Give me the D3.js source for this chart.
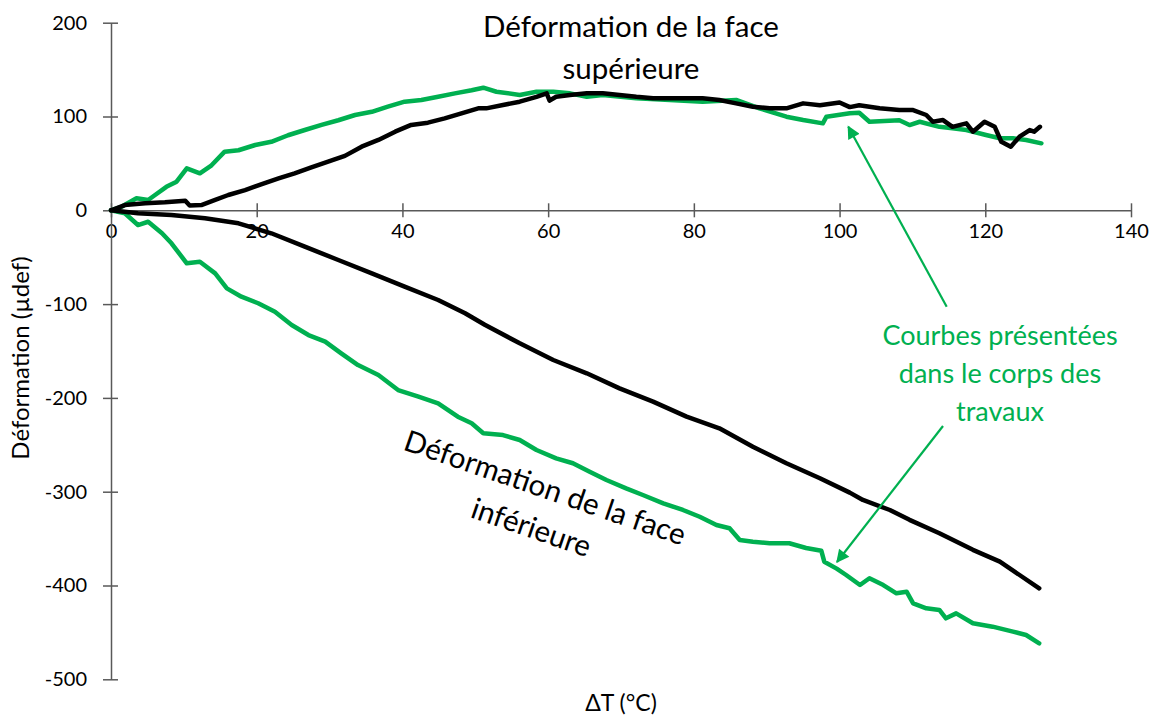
<!DOCTYPE html>
<html>
<head>
<meta charset="utf-8">
<script src="https://cdn.jsdelivr.net/npm/d3@7"></script>
<style>
  html, body { margin: 0; padding: 0; background: #fff; }
  svg { display: block; font-family: Lato, "Open Sans", sans-serif; }
</style>
</head>
<body>
<svg id="chart" width="1158" height="715"></svg>
<script>
// ΔT (°C) vs strain (µdef) readings, as [ΔT, strain] pairs
const blackTop = [[0,0],[1.9,5.6],[4.7,7.5],[7.4,8.5],[10.2,10.2],[10.8,5],[12.4,5.6],[14.3,11],[16.1,16.3],[18.4,21.6],[20.7,28],[23,34],[25.2,39.4],[27.5,45.8],[29.8,51.8],[32.1,58],[34.4,67.8],[36.7,75],[39,83.8],[41.2,91],[43.5,93.4],[45.8,98],[48.1,103.4],[50.4,108.7],[51.5,108.7],[53.8,112.3],[56.1,115.8],[58.4,121],[59.8,124.7],[60.2,117],[61.1,121],[63,123],[65.3,124.7],[67.5,124.7],[69.8,123],[72.1,121],[74.4,119.4],[76.7,119.4],[79,119.4],[81.2,119.4],[83.5,117.6],[85.8,114],[88.1,110.4],[90.4,108.7],[92.7,108.7],[95,114],[97.3,112],[100,115],[101.4,110],[102.7,112],[105.5,108.7],[108.2,107],[110,107],[111.9,101.6],[112.8,94.4],[114.2,96.2],[115.5,89],[117.4,92.7],[118.3,83.8],[119.9,94.4],[121.3,89],[122.2,73.1],[123.5,67.8],[124.7,78.5],[126.1,85.5],[126.7,83.8],[127.5,89]];

const greenTop = [[0,0],[1.5,4],[3.5,12.8],[5.1,11],[6,16],[7.6,25],[9,30.5],[10.4,44.8],[12.2,39.4],[13.8,48],[15.6,62.5],[17.5,64],[19.8,69.6],[22,73],[24.3,80],[26.6,85.6],[28.9,91],[31.2,96],[33.5,101.6],[35.8,105],[38,110.5],[40.3,115.8],[42.6,117.6],[44.9,121],[47.2,124.7],[49.5,128],[51.1,130.7],[52.9,126.4],[56.1,123],[58.4,126.4],[60.7,126.4],[63,124.7],[65.3,121],[67.5,123],[72.1,119.4],[76.7,117.6],[81.2,115.8],[85.8,117.6],[89,108.7],[92.7,99.8],[95,96.3],[97.7,92.7],[98.2,99.8],[101.4,103.4],[102.7,104],[104.1,94.4],[108.2,96],[109.6,90.9],[111,94.4],[113.7,89],[115.5,87.4],[117.4,85.6],[120.1,80.3],[122,76.8],[123.8,76.8],[125.6,75],[127.7,71.4]];

const blackBottom = [[0,0],[3.7,-3.2],[8.3,-5],[12.9,-8.5],[17.5,-13.9],[22,-24.5],[26.6,-38.8],[31.2,-53],[35.8,-67.2],[40.3,-81.4],[44.9,-95.6],[48.6,-109.8],[51.3,-122],[56.1,-141.8],[60.7,-159.6],[65.3,-173.8],[69.8,-189.8],[74.4,-204],[79,-220],[83.5,-232.4],[88.1,-252],[92.7,-269.7],[97.3,-285.7],[101.4,-301],[103.2,-308.8],[106.9,-319.5],[109.6,-330],[113.7,-344.3],[118.3,-362],[122,-374.6],[124.7,-388.8],[127.4,-403]];

const greenBottom = [[0,0],[1.9,-3.2],[3.7,-15.7],[5.1,-12.2],[7,-24.5],[8.3,-35.2],[10.4,-56.5],[12.2,-54.8],[14.3,-67.2],[15.9,-83.2],[17.9,-92.1],[20.2,-99.1],[22.5,-108.1],[24.8,-122.3],[27.1,-133],[29.4,-140],[31.6,-152.5],[33.9,-165],[36.7,-175.6],[39.4,-191.6],[42.2,-198.7],[44.9,-205.8],[47.6,-220],[49.5,-227],[51.1,-237.7],[53.8,-239.6],[56.1,-244.9],[58.4,-255.5],[61.1,-264.4],[63.4,-269.7],[65.7,-278.7],[68,-287.5],[70.7,-296.4],[73,-303.5],[75.8,-312.4],[78.5,-319.5],[80.8,-326.7],[83.1,-335.5],[84.9,-339],[86.3,-351.5],[88.1,-353.3],[90.4,-355],[93.1,-355],[95.4,-360],[97.5,-363],[97.9,-374.6],[99.6,-382],[100.9,-388.8],[102.8,-399.5],[104.1,-392.3],[106,-399.5],[107.8,-408.3],[109.2,-406.6],[110.1,-419],[111.9,-424.3],[113.7,-426.1],[114.6,-435],[116,-429.7],[118.3,-440.3],[121,-443.9],[123.8,-449.2],[125.6,-452.8],[127.4,-461.6]];

const xTicks = [0, 20, 40, 60, 80, 100, 120, 140];
const yTicks = [200, 100, 0, -100, -200, -300, -400, -500];

const titleTop = ["Déformation de la face", "supérieure"];
const titleBottom = ["Déformation de la face", "inférieure"];
const noteLines = ["Courbes présentées", "dans le corps des", "travaux"];

const GREEN = "#00B050";
const AXIS = "#595959";

const svg = d3.select("#chart");
const x = d3.scaleLinear().domain([0, 140]).range([111, 1131]);
const y = d3.scaleLinear().domain([-500, 200]).range([679.3, 22.7]);

// plain hyphen for negative numbers
const fmt = d => String(d);

// axes: horizontal one crosses at strain = 0
const xAxis = d3.axisBottom(x).tickValues(xTicks).tickSizeInner(7).tickSizeOuter(0).tickFormat(fmt);
const gx = svg.append("g").attr("transform", `translate(0,${y(0)})`).call(xAxis);
gx.select(".domain").attr("stroke", AXIS).attr("stroke-width", 1.5);
gx.selectAll(".tick line").attr("stroke", AXIS).attr("stroke-width", 1.5).attr("y1", -7).attr("y2", 7);
gx.selectAll(".tick text").attr("font-size", 20).attr("fill", "#000").attr("font-family", "Lato").attr("y", 14).attr("dy", "0.71em");

const yAxis = d3.axisLeft(y).tickValues(yTicks).tickSizeInner(7).tickSizeOuter(0).tickFormat(fmt);
const gy = svg.append("g").attr("transform", `translate(${x(0)},0)`).call(yAxis);
gy.select(".domain").attr("stroke", AXIS).attr("stroke-width", 1.5);
gy.selectAll(".tick line").attr("stroke", AXIS).attr("stroke-width", 1.5).attr("x1", -8).attr("x2", 7);
gy.selectAll(".tick text").attr("font-size", 20).attr("fill", "#000").attr("font-family", "Lato").attr("x", -24);

// data curves
const line = d3.line().x(d => x(d[0])).y(d => y(d[1]));
const series = [
  { data: greenBottom, color: GREEN },
  { data: greenTop, color: GREEN },
  { data: blackBottom, color: "#000" },
  { data: blackTop, color: "#000" }
];
svg.append("g").selectAll("path").data(series).join("path")
  .attr("d", d => line(d.data))
  .attr("fill", "none")
  .attr("stroke", d => d.color)
  .attr("stroke-width", 4.5)
  .attr("stroke-linejoin", "round")
  .attr("stroke-linecap", "round");

// axis titles
svg.append("text").attr("x", 621).attr("y", 711).attr("text-anchor", "middle")
  .attr("font-size", 23).text("ΔT (°C)");
svg.append("text").attr("transform", "translate(29,358) rotate(-90)").attr("text-anchor", "middle")
  .attr("font-size", 24).text("Déformation (µdef)");

// curve labels
svg.append("g").selectAll("text").data(titleTop).join("text")
  .attr("x", 631).attr("y", (d, i) => 37 + i * 42)
  .attr("text-anchor", "middle").attr("font-size", 29.5).text(d => d);

svg.append("g").attr("transform", "translate(545,488) rotate(19)")
  .selectAll("text").data(titleBottom).join("text")
  .attr("x", 0).attr("y", (d, i) => 10 + i * 42)
  .attr("text-anchor", "middle").attr("font-size", 29.5).text(d => d);

svg.append("g").selectAll("text").data(noteLines).join("text")
  .attr("x", 1000).attr("y", (d, i) => 345 + i * 38)
  .attr("text-anchor", "middle").attr("font-size", 27).attr("fill", GREEN).text(d => d);

// arrows from the note to the two green curves
const defs = svg.append("defs");
defs.append("marker").attr("id", "head").attr("viewBox", "0 0 10 10")
  .attr("refX", 9).attr("refY", 5).attr("markerUnits", "userSpaceOnUse")
  .attr("markerWidth", 15).attr("markerHeight", 13).attr("orient", "auto")
  .append("path").attr("d", "M0,0 L10,5 L0,10 z").attr("fill", GREEN);

const arrows = [
  { x1: 946.7, y1: 306.7, x2: 848.3, y2: 126.7 },
  { x1: 943, y1: 426, x2: 837, y2: 562 }
];
svg.append("g").selectAll("line").data(arrows).join("line")
  .attr("x1", d => d.x1).attr("y1", d => d.y1).attr("x2", d => d.x2).attr("y2", d => d.y2)
  .attr("stroke", GREEN).attr("stroke-width", 2.2).attr("marker-end", "url(#head)");
</script>
</body>
</html>
